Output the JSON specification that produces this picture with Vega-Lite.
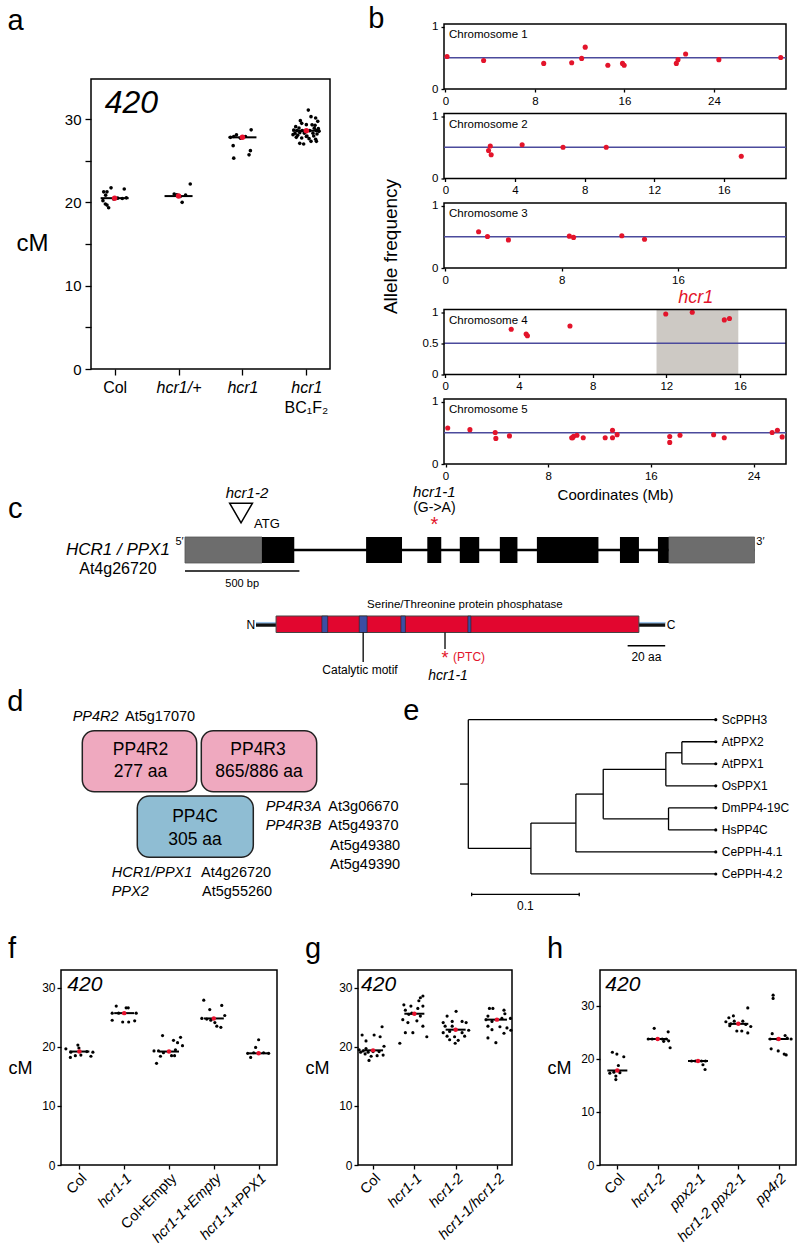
{
  "$schema": "https://vega.github.io/schema/vega-lite/v6.json",
  "background": "white",
  "padding": {"left": 7, "top": 4, "right": 0, "bottom": 0},
  "config": {
    "font": "Liberation Sans",
    "view": {"stroke": "black", "strokeWidth": 1.5},
    "axis": {"grid": false, "domain": false, "tickColor": "black", "tickWidth": 1.3, "labelColor": "black", "titleColor": "black", "labelFont": "Liberation Sans", "titleFont": "Liberation Sans", "titleFontWeight": "normal", "labelOverlap": false},
    "title": {"fontWeight": "normal", "font": "Liberation Sans", "color": "black"},
    "text": {"font": "Liberation Sans", "color": "black"}
  },
  "datasets": {
    "aDots": [
      {"g":"Col","v":21.26,"j":-0.73},{"g":"Col","v":21.26,"j":-0.51},{"g":"Col","v":21.74,"j":-0.24},{"g":"Col","v":20.86,"j":-0.6},{"g":"Col","v":20.2,"j":-0.78},{"g":"Col","v":19.8,"j":-0.62},{"g":"Col","v":19.67,"j":-0.51},{"g":"Col","v":19.35,"j":-0.4},{"g":"Col","v":21.6,"j":0.64},{"g":"Col","v":20.46,"j":0.51},{"g":"Col","v":20.54,"j":0.78},{"g":"Col","v":20.5,"j":0.2},{"g":"Col","v":20.4,"j":-0.07},
      {"g":"hcr1/+","v":21.0,"j":-0.29},{"g":"hcr1/+","v":20.9,"j":-0.11},{"g":"hcr1/+","v":20.0,"j":0.24},{"g":"hcr1/+","v":20.86,"j":0.47},{"g":"hcr1/+","v":22.2,"j":0.78},{"g":"hcr1/+","v":20.7,"j":0.11},
      {"g":"hcr1","v":27.8,"j":-0.8},{"g":"hcr1","v":27.9,"j":-0.58},{"g":"hcr1","v":28.1,"j":-0.4},{"g":"hcr1","v":28.7,"j":0.58},{"g":"hcr1","v":26.8,"j":-0.62},{"g":"hcr1","v":25.3,"j":-0.58},{"g":"hcr1","v":25.7,"j":0.44},{"g":"hcr1","v":26.2,"j":0.53},{"g":"hcr1","v":27.7,"j":-0.13},{"g":"hcr1","v":27.9,"j":0.2},
      {"g":"hcr1 BC1F2","v":31.07,"j":0.13},{"g":"hcr1 BC1F2","v":30.28,"j":0.31},{"g":"hcr1 BC1F2","v":30.12,"j":0.62},{"g":"hcr1 BC1F2","v":29.72,"j":0.76},{"g":"hcr1 BC1F2","v":29.48,"j":-0.31},{"g":"hcr1 BC1F2","v":29.32,"j":0},{"g":"hcr1 BC1F2","v":29.3,"j":0.38},{"g":"hcr1 BC1F2","v":29.08,"j":-0.71},{"g":"hcr1 BC1F2","v":28.92,"j":-0.49},{"g":"hcr1 BC1F2","v":28.9,"j":0.53},{"g":"hcr1 BC1F2","v":28.84,"j":0.8},{"g":"hcr1 BC1F2","v":28.68,"j":-0.84},{"g":"hcr1 BC1F2","v":28.6,"j":-0.62},{"g":"hcr1 BC1F2","v":28.6,"j":-0.27},{"g":"hcr1 BC1F2","v":28.6,"j":0.22},{"g":"hcr1 BC1F2","v":28.6,"j":0.67},{"g":"hcr1 BC1F2","v":28.52,"j":0.84},{"g":"hcr1 BC1F2","v":28.28,"j":-0.76},{"g":"hcr1 BC1F2","v":28.36,"j":-0.44},{"g":"hcr1 BC1F2","v":28.3,"j":-0.13},{"g":"hcr1 BC1F2","v":28.3,"j":0.44},{"g":"hcr1 BC1F2","v":28.2,"j":0.71},{"g":"hcr1 BC1F2","v":28.12,"j":-0.89},{"g":"hcr1 BC1F2","v":28.04,"j":-0.58},{"g":"hcr1 BC1F2","v":27.96,"j":0.04},{"g":"hcr1 BC1F2","v":27.96,"j":0.49},{"g":"hcr1 BC1F2","v":27.8,"j":-0.67},{"g":"hcr1 BC1F2","v":27.72,"j":-0.31},{"g":"hcr1 BC1F2","v":27.64,"j":0.18},{"g":"hcr1 BC1F2","v":27.56,"j":0.62},{"g":"hcr1 BC1F2","v":27.32,"j":0.67},{"g":"hcr1 BC1F2","v":27.08,"j":-0.44},{"g":"hcr1 BC1F2","v":27.0,"j":-0.18},{"g":"hcr1 BC1F2","v":27.32,"j":0.31},{"g":"hcr1 BC1F2","v":27.9,"j":0},{"g":"hcr1 BC1F2","v":29.24,"j":0.58},{"g":"hcr1 BC1F2","v":29.8,"j":-0.4}
    ],
    "aMeans": [{"g":"Col","v":20.5},{"g":"hcr1/+","v":20.75},{"g":"hcr1","v":27.8},{"g":"hcr1 BC1F2","v":28.6}],
    "chr1": [{"x":0.15,"y":0.52},{"x":3.42,"y":0.457},{"x":8.79,"y":0.41},{"x":11.29,"y":0.42},{"x":12.18,"y":0.49},{"x":12.5,"y":0.67},{"x":14.52,"y":0.38},{"x":15.83,"y":0.41},{"x":15.98,"y":0.38},{"x":20.64,"y":0.41},{"x":20.79,"y":0.47},{"x":21.47,"y":0.56},{"x":24.44,"y":0.47},{"x":29.97,"y":0.505}],
    "chr2": [{"x":2.48,"y":0.447},{"x":2.58,"y":0.52},{"x":2.63,"y":0.38},{"x":4.41,"y":0.54},{"x":6.76,"y":0.5},{"x":9.24,"y":0.5},{"x":17.0,"y":0.356}],
    "chr3": [{"x":2.29,"y":0.58},{"x":2.9,"y":0.505},{"x":4.34,"y":0.45},{"x":8.53,"y":0.51},{"x":8.82,"y":0.49},{"x":12.14,"y":0.517},{"x":13.7,"y":0.46}],
    "chr4": [{"x":3.58,"y":0.725},{"x":4.39,"y":0.648},{"x":4.46,"y":0.62},{"x":6.77,"y":0.775},{"x":11.97,"y":0.967},{"x":13.41,"y":0.995},{"x":15.15,"y":0.874},{"x":15.43,"y":0.896}],
    "chr5": [{"x":0.17,"y":0.577},{"x":1.9,"y":0.55},{"x":3.87,"y":0.505},{"x":3.92,"y":0.41},{"x":4.98,"y":0.45},{"x":9.83,"y":0.42},{"x":9.98,"y":0.445},{"x":9.9,"y":0.42},{"x":10.24,"y":0.46},{"x":10.73,"y":0.42},{"x":12.44,"y":0.42},{"x":13.01,"y":0.42},{"x":13.01,"y":0.54},{"x":13.37,"y":0.47},{"x":17.47,"y":0.44},{"x":17.47,"y":0.346},{"x":18.27,"y":0.46},{"x":20.89,"y":0.467},{"x":21.72,"y":0.42},{"x":25.45,"y":0.505},{"x":25.86,"y":0.54},{"x":26.23,"y":0.434}],
    "gene": [{"part":"utr","s":0,"e":336.5},{"part":"exon","s":336.5,"e":477.6},{"part":"exon","s":791.5,"e":948.5},{"part":"exon","s":1059,"e":1120},{"part":"exon","s":1201,"e":1286},{"part":"exon","s":1376,"e":1453},{"part":"exon","s":1538,"e":1807},{"part":"exon","s":1901,"e":1984},{"part":"exon","s":2067,"e":2114},{"part":"utr","s":2114,"e":2489}],
    "motifs": [{"s":35.1,"e":38.2},{"s":55.0,"e":59.2},{"s":77.2,"e":79.6},{"s":112.9,"e":114.5}],
    "tree": [
      {"x":-0.0077,"x2":0,"y":2.92,"y2":2.92},{"x":0,"x2":0.23,"y":0,"y2":0},{"x":0,"x2":0.0582,"y":5.84,"y2":5.84},{"x":0.0582,"x2":0.1,"y":4.69,"y2":4.69},{"x":0.0582,"x2":0.23,"y":7,"y2":7},{"x":0.1,"x2":0.1254,"y":3.375,"y2":3.375},{"x":0.1,"x2":0.23,"y":6,"y2":6},{"x":0.1254,"x2":0.1836,"y":2.25,"y2":2.25},{"x":0.1254,"x2":0.1861,"y":4.5,"y2":4.5},{"x":0.1836,"x2":0.1985,"y":1.5,"y2":1.5},{"x":0.1836,"x2":0.23,"y":3,"y2":3},{"x":0.1985,"x2":0.23,"y":1,"y2":1},{"x":0.1985,"x2":0.23,"y":2,"y2":2},{"x":0.1861,"x2":0.23,"y":4,"y2":4},{"x":0.1861,"x2":0.23,"y":5,"y2":5},
      {"x":0,"x2":0,"y":0,"y2":5.84},{"x":0.0582,"x2":0.0582,"y":4.69,"y2":7},{"x":0.1,"x2":0.1,"y":3.375,"y2":6},{"x":0.1254,"x2":0.1254,"y":2.25,"y2":4.5},{"x":0.1836,"x2":0.1836,"y":1.5,"y2":3},{"x":0.1985,"x2":0.1985,"y":1,"y2":2},{"x":0.1861,"x2":0.1861,"y":4,"y2":5},
      {"x":0.0031,"x2":0.1031,"y":7.93,"y2":7.93},{"x":0.0031,"x2":0.0031,"y":7.85,"y2":8.01},{"x":0.1031,"x2":0.1031,"y":7.85,"y2":8.01}
    ],
    "leaves": [{"n":"ScPPH3","d":0.23,"i":0},{"n":"AtPPX2","d":0.23,"i":1},{"n":"AtPPX1","d":0.23,"i":2},{"n":"OsPPX1","d":0.23,"i":3},{"n":"DmPP4-19C","d":0.23,"i":4},{"n":"HsPP4C","d":0.23,"i":5},{"n":"CePPH-4.1","d":0.23,"i":6},{"n":"CePPH-4.2","d":0.23,"i":7}],
    "fDots": [
      {"g":"Col","v":19.66,"j":-0.9},{"g":"Col","v":19.1,"j":-0.57},{"g":"Col","v":20.3,"j":-0.1},{"g":"Col","v":19.8,"j":-0.03},{"g":"Col","v":18.2,"j":-0.6},{"g":"Col","v":18.5,"j":-0.27},{"g":"Col","v":18.6,"j":0.1},{"g":"Col","v":18.4,"j":0.77},{"g":"Col","v":19.2,"j":0.5},{"g":"Col","v":19.1,"j":0.9},
      {"g":"hcr1-1","v":26.9,"j":-0.53},{"g":"hcr1-1","v":26.6,"j":0.13},{"g":"hcr1-1","v":26.6,"j":0.27},{"g":"hcr1-1","v":25.7,"j":-0.8},{"g":"hcr1-1","v":25.7,"j":0.8},{"g":"hcr1-1","v":24.5,"j":-0.8},{"g":"hcr1-1","v":24.2,"j":-0.1},{"g":"hcr1-1","v":24.2,"j":0.3},{"g":"hcr1-1","v":24.4,"j":0.7},{"g":"hcr1-1","v":25.7,"j":-0.37},
      {"g":"Col+Empty","v":17.2,"j":-0.83},{"g":"Col+Empty","v":21.9,"j":-0.43},{"g":"Col+Empty","v":19.3,"j":-1.0},{"g":"Col+Empty","v":19.3,"j":-0.7},{"g":"Col+Empty","v":19.0,"j":-0.37},{"g":"Col+Empty","v":18.5,"j":0.17},{"g":"Col+Empty","v":18.5,"j":0.37},{"g":"Col+Empty","v":19.5,"j":0.43},{"g":"Col+Empty","v":20.7,"j":0.57},{"g":"Col+Empty","v":21.1,"j":0.3},{"g":"Col+Empty","v":21.6,"j":0.77},{"g":"Col+Empty","v":20.2,"j":0.9},{"g":"Col+Empty","v":18.4,"j":-0.57},
      {"g":"hcr1-1+Empty","v":27.9,"j":-0.67},{"g":"hcr1-1+Empty","v":26.3,"j":-0.27},{"g":"hcr1-1+Empty","v":27.0,"j":0.53},{"g":"hcr1-1+Empty","v":24.8,"j":-0.8},{"g":"hcr1-1+Empty","v":24.7,"j":-0.47},{"g":"hcr1-1+Empty","v":25.3,"j":0.73},{"g":"hcr1-1+Empty","v":23.5,"j":0.2},{"g":"hcr1-1+Empty","v":23.3,"j":0.47},{"g":"hcr1-1+Empty","v":24.1,"j":0.07},{"g":"hcr1-1+Empty","v":24.5,"j":-0.2},
      {"g":"hcr1-1+PPX1","v":21.2,"j":0},{"g":"hcr1-1+PPX1","v":19.9,"j":-0.2},{"g":"hcr1-1+PPX1","v":18.2,"j":-0.53},{"g":"hcr1-1+PPX1","v":19.0,"j":-0.33},{"g":"hcr1-1+PPX1","v":19.0,"j":0.33},{"g":"hcr1-1+PPX1","v":18.9,"j":0.67},{"g":"hcr1-1+PPX1","v":18.9,"j":-0.73}
    ],
    "fMeans": [{"g":"Col","v":19.2},{"g":"hcr1-1","v":25.7},{"g":"Col+Empty","v":19.2},{"g":"hcr1-1+Empty","v":24.8},{"g":"hcr1-1+PPX1","v":18.9}],
    "gDots": [
      {"g":"Col","v":22.0,"j":-0.73},{"g":"Col","v":22.0,"j":0.07},{"g":"Col","v":21.0,"j":-0.47},{"g":"Col","v":21.7,"j":0.47},{"g":"Col","v":23.4,"j":0.6},{"g":"Col","v":19.3,"j":-0.67},{"g":"Col","v":19.1,"j":-0.33},{"g":"Col","v":19.1,"j":-0.83},{"g":"Col","v":18.8,"j":-0.53},{"g":"Col","v":19.2,"j":0},{"g":"Col","v":19.2,"j":0.4},{"g":"Col","v":20.1,"j":0.73},{"g":"Col","v":18.6,"j":0.67},{"g":"Col","v":18.4,"j":-0.13},{"g":"Col","v":17.7,"j":-0.27},{"g":"Col","v":18.5,"j":0.27},{"g":"Col","v":19.7,"j":-0.47},{"g":"Col","v":19.5,"j":-0.93},
      {"g":"hcr1-1","v":27.1,"j":-0.7},{"g":"hcr1-1","v":26.9,"j":-0.23},{"g":"hcr1-1","v":26.5,"j":0.23},{"g":"hcr1-1","v":26.9,"j":0.57},{"g":"hcr1-1","v":27.8,"j":0.3},{"g":"hcr1-1","v":28.3,"j":0.4},{"g":"hcr1-1","v":28.6,"j":0.57},{"g":"hcr1-1","v":26.2,"j":-0.6},{"g":"hcr1-1","v":25.7,"j":-0.17},{"g":"hcr1-1","v":25.2,"j":0.4},{"g":"hcr1-1","v":24.6,"j":-0.77},{"g":"hcr1-1","v":24.1,"j":-0.43},{"g":"hcr1-1","v":24.4,"j":0.17},{"g":"hcr1-1","v":23.5,"j":0.57},{"g":"hcr1-1","v":22.4,"j":-0.6},{"g":"hcr1-1","v":22.4,"j":-0.1},{"g":"hcr1-1","v":21.7,"j":0.83},{"g":"hcr1-1","v":20.6,"j":-0.97},{"g":"hcr1-1","v":25.5,"j":-0.37},
      {"g":"hcr1-2","v":26.0,"j":0.03},{"g":"hcr1-2","v":25.2,"j":-0.57},{"g":"hcr1-2","v":24.3,"j":-0.23},{"g":"hcr1-2","v":24.3,"j":0.43},{"g":"hcr1-2","v":24.1,"j":-0.83},{"g":"hcr1-2","v":24.1,"j":0.7},{"g":"hcr1-2","v":22.4,"j":-0.83},{"g":"hcr1-2","v":22.6,"j":-0.4},{"g":"hcr1-2","v":22.4,"j":0.43},{"g":"hcr1-2","v":22.8,"j":0.87},{"g":"hcr1-2","v":21.8,"j":-0.57},{"g":"hcr1-2","v":21.7,"j":-0.07},{"g":"hcr1-2","v":21.8,"j":0.6},{"g":"hcr1-2","v":21.2,"j":-0.4},{"g":"hcr1-2","v":21.1,"j":0.17},{"g":"hcr1-2","v":20.6,"j":-0.03},{"g":"hcr1-2","v":23.5,"j":-0.7},{"g":"hcr1-2","v":23.5,"j":-0.23},
      {"g":"hcr1-1/hcr1-2","v":26.5,"j":-0.5},{"g":"hcr1-1/hcr1-2","v":26.5,"j":-0.27},{"g":"hcr1-1/hcr1-2","v":26.2,"j":0.47},{"g":"hcr1-1/hcr1-2","v":25.2,"j":-0.6},{"g":"hcr1-1/hcr1-2","v":25.6,"j":0.53},{"g":"hcr1-1/hcr1-2","v":24.8,"j":0.33},{"g":"hcr1-1/hcr1-2","v":24.8,"j":0.9},{"g":"hcr1-1/hcr1-2","v":24.3,"j":-0.33},{"g":"hcr1-1/hcr1-2","v":23.5,"j":-0.6},{"g":"hcr1-1/hcr1-2","v":23.4,"j":0.2},{"g":"hcr1-1/hcr1-2","v":23.2,"j":0.67},{"g":"hcr1-1/hcr1-2","v":22.8,"j":0.93},{"g":"hcr1-1/hcr1-2","v":22.9,"j":-0.33},{"g":"hcr1-1/hcr1-2","v":21.5,"j":-0.6},{"g":"hcr1-1/hcr1-2","v":20.7,"j":-0.07},{"g":"hcr1-1/hcr1-2","v":22.3,"j":0.47},{"g":"hcr1-1/hcr1-2","v":24.6,"j":-0.73}
    ],
    "gMeans": [{"g":"Col","v":19.4},{"g":"hcr1-1","v":25.6},{"g":"hcr1-2","v":22.9},{"g":"hcr1-1/hcr1-2","v":24.6}],
    "hDots": [
      {"g":"Col","v":21.25,"j":-0.33},{"g":"Col","v":20.9,"j":-0.03},{"g":"Col","v":20.4,"j":0.43},{"g":"Col","v":18.75,"j":0.07},{"g":"Col","v":17.5,"j":-0.23},{"g":"Col","v":17.4,"j":0.17},{"g":"Col","v":16.75,"j":-0.1},{"g":"Col","v":16.1,"j":-0.1},{"g":"Col","v":17.3,"j":-0.5},
      {"g":"hcr1-2","v":25.75,"j":-0.23},{"g":"hcr1-2","v":25.1,"j":0.7},{"g":"hcr1-2","v":23.75,"j":-0.63},{"g":"hcr1-2","v":23.75,"j":-0.37},{"g":"hcr1-2","v":23.75,"j":0.3},{"g":"hcr1-2","v":23.75,"j":0.57},{"g":"hcr1-2","v":23.4,"j":0.73},{"g":"hcr1-2","v":23.3,"j":0.4},{"g":"hcr1-2","v":22.1,"j":0.83},
      {"g":"ppx2-1","v":19.6,"j":-0.43},{"g":"ppx2-1","v":19.6,"j":-0.17},{"g":"ppx2-1","v":19.6,"j":0.23},{"g":"ppx2-1","v":19.6,"j":0.5},{"g":"ppx2-1","v":18.9,"j":0.33},{"g":"ppx2-1","v":18.0,"j":0.47},
      {"g":"hcr1-2 ppx2-1","v":27.75,"j":-0.63},{"g":"hcr1-2 ppx2-1","v":28.1,"j":-0.33},{"g":"hcr1-2 ppx2-1","v":29.6,"j":0.63},{"g":"hcr1-2 ppx2-1","v":27.0,"j":-0.83},{"g":"hcr1-2 ppx2-1","v":26.25,"j":-0.57},{"g":"hcr1-2 ppx2-1","v":27.1,"j":-0.27},{"g":"hcr1-2 ppx2-1","v":27.1,"j":0.3},{"g":"hcr1-2 ppx2-1","v":26.5,"j":0.5},{"g":"hcr1-2 ppx2-1","v":26.1,"j":0.83},{"g":"hcr1-2 ppx2-1","v":25.25,"j":-0.1},{"g":"hcr1-2 ppx2-1","v":25.25,"j":0.23},{"g":"hcr1-2 ppx2-1","v":24.9,"j":0.63},{"g":"hcr1-2 ppx2-1","v":26.6,"j":-0.5},
      {"g":"pp4r2","v":32.0,"j":-0.37},{"g":"pp4r2","v":31.4,"j":-0.37},{"g":"pp4r2","v":24.75,"j":-0.43},{"g":"pp4r2","v":24.4,"j":0.43},{"g":"pp4r2","v":23.75,"j":-0.57},{"g":"pp4r2","v":23.75,"j":-0.1},{"g":"pp4r2","v":23.9,"j":0.57},{"g":"pp4r2","v":21.9,"j":-0.5},{"g":"pp4r2","v":21.5,"j":-0.03},{"g":"pp4r2","v":20.9,"j":0.37},{"g":"pp4r2","v":20.75,"j":0.5},{"g":"pp4r2","v":23.75,"j":0.83}
    ],
    "hMeans": [{"g":"Col","v":17.8},{"g":"hcr1-2","v":23.75},{"g":"ppx2-1","v":19.6},{"g":"hcr1-2 ppx2-1","v":26.6},{"g":"pp4r2","v":23.75}]
  },
  "columns": 1,
  "align": "none",
  "spacing": 5,
  "concat": [
    {
      "columns": 1,
      "align": "none",
      "spacing": -31,
      "concat": [
        {
          "columns": 2,
          "align": "none",
          "spacing": 36,
          "concat": [
            {
              "width": 239, "height": 345,
              "view": {"stroke": null},
              "layer": [
                {"data": {"values": [{}]}, "mark": {"type": "rect", "fill": null, "fillOpacity": 0, "stroke": "black", "strokeWidth": 1.5}, "encoding": {"y": {"datum": 0, "type": "quantitative"}, "y2": {"datum": 34.8}}},
                {"data": {"name": "aDots"}, "mark": {"type": "circle", "size": 13, "color": "black", "opacity": 1},
                 "encoding": {
                   "x": {"field": "g", "type": "nominal", "sort": null, "scale": {"type": "point", "padding": 0.37, "domain": ["Col", "hcr1/+", "hcr1", "hcr1 BC1F2"]},
                         "axis": {"title": "a", "titleFontSize": 29, "titleX": -84, "titleY": -340, "titleAlign": "left", "titleBaseline": "alphabetic", "titleAngle": 0, "labelAngle": 0, "labelFontSize": 16, "tickSize": 6, "labelPadding": 4, "labelExpr": "datum.value === 'hcr1 BC1F2' ? 'hcr1' : datum.value", "labelFontStyle": {"condition": {"test": "datum.value === 'Col'", "value": "normal"}, "value": "italic"}}},
                   "xOffset": {"field": "j", "type": "quantitative", "scale": {"domain": [-1, 1], "range": [-15, 15]}},
                   "y": {"field": "v", "type": "quantitative", "scale": {"domain": [0, 41.4], "nice": false},
                         "axis": {"values": [0, 5, 10, 15, 20, 25, 30], "labelExpr": "datum.value % 10 === 0 ? datum.label : ''", "tickSize": 6, "labelFontSize": 15, "labelPadding": 4, "title": "cM", "titleAngle": 0, "titleFontSize": 24, "titleX": -59, "titleY": 219, "titleAlign": "center", "titleBaseline": "middle"}}
                 }},
                {"data": {"name": "aMeans"}, "mark": {"type": "tick", "color": "black", "opacity": 1, "thickness": 2, "size": 28}, "encoding": {"x": {"field": "g", "type": "nominal"}, "y": {"field": "v", "type": "quantitative"}}},
                {"data": {"name": "aMeans"}, "mark": {"type": "circle", "size": 30, "color": "#e8112d", "opacity": 1}, "encoding": {"x": {"field": "g", "type": "nominal"}, "y": {"field": "v", "type": "quantitative"}}},
                {"data": {"values": [{"g": "Col", "v": 30.7, "t": "420"}]}, "mark": {"type": "text", "fontSize": 32, "fontStyle": "italic", "align": "left", "dx": -10, "baseline": "alphabetic"}, "encoding": {"x": {"field": "g", "type": "nominal"}, "y": {"field": "v", "type": "quantitative"}, "text": {"field": "t"}}},
                {"data": {"values": [{"g": "hcr1 BC1F2", "v": 0, "t": "BC₁F₂"}]}, "mark": {"type": "text", "fontSize": 16, "baseline": "middle", "dy": 39}, "encoding": {"x": {"field": "g", "type": "nominal"}, "y": {"field": "v", "type": "quantitative"}, "text": {"field": "t"}}}
              ]
            },
            {
              "bounds": "flush",
              "spacing": 24.5,
              "vconcat": [
                {
                  "width": 342, "height": 65,
                  "layer": [
                    {"data": {"values": [{}]}, "mark": {"type": "rule", "color": "#4b4a9c", "strokeWidth": 1.5}, "encoding": {"y": {"datum": 0.5}}},
                    {"data": {"name": "chr1"}, "mark": {"type": "circle", "size": 26, "color": "#e3142b", "opacity": 1},
                     "encoding": {
                       "x": {"field": "x", "type": "quantitative", "scale": {"domain": [-0.12, 30.44], "nice": false, "zero": false}, "axis": {"values": [0, 8, 16, 24], "title": null, "tickSize": 3, "labelFontSize": 11.5, "labelPadding": 3, "labelFlush": false}},
                       "y": {"field": "y", "type": "quantitative", "scale": {"domain": [0, 1.04], "nice": false}, "axis": {"values": [0, 0.5, 1], "labelExpr": "datum.value === 0.5 ? '0.5' : (datum.value === 1 ? '1' : '0')", "title": null, "tickSize": 3, "labelFontSize": 11.5, "labelPadding": 3, "labelFlush": false}}
                     }},
                    {"data": {"values": [{"t": "Chromosome 1"}]}, "mark": {"type": "text", "align": "left", "baseline": "middle", "dx": 5, "dy": 11, "fontSize": 11.5}, "encoding": {"x": {"datum": -0.12}, "y": {"datum": 1.04}, "text": {"field": "t"}}},
                    {"data": {"values": [{"t": "b"}]}, "mark": {"type": "text", "align": "left", "baseline": "alphabetic", "fontSize": 29}, "encoding": {"x": {"datum": -6.89}, "y": {"datum": 0.976}, "text": {"field": "t"}}}
                  ]
                },
                {
                  "width": 342, "height": 65,
                  "layer": [
                    {"data": {"values": [{}]}, "mark": {"type": "rule", "color": "#4b4a9c", "strokeWidth": 1.5}, "encoding": {"y": {"datum": 0.5}}},
                    {"data": {"name": "chr2"}, "mark": {"type": "circle", "size": 26, "color": "#e3142b", "opacity": 1},
                     "encoding": {
                       "x": {"field": "x", "type": "quantitative", "scale": {"domain": [-0.08, 19.57], "nice": false, "zero": false}, "axis": {"values": [0, 4, 8, 12, 16], "title": null, "tickSize": 3, "labelFontSize": 11.5, "labelPadding": 3, "labelFlush": false}},
                       "y": {"field": "y", "type": "quantitative", "scale": {"domain": [0, 1.04], "nice": false}, "axis": {"values": [0, 0.5, 1], "labelExpr": "datum.value === 0.5 ? '0.5' : (datum.value === 1 ? '1' : '0')", "title": null, "tickSize": 3, "labelFontSize": 11.5, "labelPadding": 3, "labelFlush": false}}
                     }},
                    {"data": {"values": [{"t": "Chromosome 2"}]}, "mark": {"type": "text", "align": "left", "baseline": "middle", "dx": 5, "dy": 11, "fontSize": 11.5}, "encoding": {"x": {"datum": -0.08}, "y": {"datum": 1.04}, "text": {"field": "t"}}}
                  ]
                },
                {
                  "width": 342, "height": 65,
                  "layer": [
                    {"data": {"values": [{}]}, "mark": {"type": "rule", "color": "#4b4a9c", "strokeWidth": 1.5}, "encoding": {"y": {"datum": 0.5}}},
                    {"data": {"name": "chr3"}, "mark": {"type": "circle", "size": 26, "color": "#e3142b", "opacity": 1},
                     "encoding": {
                       "x": {"field": "x", "type": "quantitative", "scale": {"domain": [-0.09, 23.43], "nice": false, "zero": false}, "axis": {"values": [0, 8, 16], "title": null, "tickSize": 3, "labelFontSize": 11.5, "labelPadding": 3, "labelFlush": false}},
                       "y": {"field": "y", "type": "quantitative", "scale": {"domain": [0, 1.04], "nice": false}, "axis": {"values": [0, 0.5, 1], "labelExpr": "datum.value === 0.5 ? '0.5' : (datum.value === 1 ? '1' : '0')", "tickSize": 3, "labelFontSize": 11.5, "labelPadding": 3, "labelFlush": false, "title": "Allele frequency", "titleFontSize": 19, "titleAngle": 270, "titleX": -54, "titleY": 43, "titleAlign": "center", "titleBaseline": "middle"}}
                     }},
                    {"data": {"values": [{"t": "Chromosome 3"}]}, "mark": {"type": "text", "align": "left", "baseline": "middle", "dx": 5, "dy": 11, "fontSize": 11.5}, "encoding": {"x": {"datum": -0.09}, "y": {"datum": 1.04}, "text": {"field": "t"}}}
                  ]
                },
                {
                  "width": 342, "height": 82,
                  "view": {"stroke": null},
                  "layer": [
                    {"data": {"values": [{"s": 11.47, "e": 15.91}]}, "mark": {"type": "rect", "color": "#cdc9c4"}, "encoding": {"x": {"field": "s", "type": "quantitative"}, "x2": {"field": "e"}, "y": {"datum": 0}, "y2": {"datum": 1.04}}},
                    {"data": {"values": [{"y": 0.5}]}, "mark": {"type": "rule", "color": "#4b4a9c", "strokeWidth": 1.5}, "encoding": {"x": {"datum": -0.07}, "x2": {"datum": 18.5}, "y": {"field": "y", "type": "quantitative"}}},
                    {"data": {"name": "chr4"}, "mark": {"type": "circle", "size": 26, "color": "#e3142b", "opacity": 1},
                     "encoding": {
                       "x": {"field": "x", "type": "quantitative", "scale": {"domain": [-0.07, 18.5], "nice": false, "zero": false}, "axis": {"values": [0, 4, 8, 12, 16], "title": null, "tickSize": 3, "labelFontSize": 11.5, "labelPadding": 3, "labelFlush": false}},
                       "y": {"field": "y", "type": "quantitative", "scale": {"domain": [0, 1.312], "nice": false}, "axis": {"values": [0, 0.5, 1], "labelExpr": "datum.value === 0.5 ? '0.5' : (datum.value === 1 ? '1' : '0')", "title": null, "tickSize": 3, "labelFontSize": 11.5, "labelPadding": 3, "labelFlush": false}}
                     }},
                    {"data": {"values": [{}]}, "mark": {"type": "rect", "fill": null, "fillOpacity": 0, "stroke": "black", "strokeWidth": 1.5}, "encoding": {"x": {"datum": -0.07}, "x2": {"datum": 18.5}, "y": {"datum": 0}, "y2": {"datum": 1.04}}},
                    {"data": {"values": [{"t": "Chromosome 4"}]}, "mark": {"type": "text", "align": "left", "baseline": "middle", "dx": 5, "dy": 11, "fontSize": 11.5}, "encoding": {"x": {"datum": -0.07}, "y": {"datum": 1.04}, "text": {"field": "t"}}},
                    {"data": {"values": [{"x": 13.6, "t": "hcr1"}]}, "mark": {"type": "text", "align": "center", "baseline": "alphabetic", "fontSize": 18, "fontStyle": "italic", "color": "#e3142b"}, "encoding": {"x": {"field": "x", "type": "quantitative"}, "y": {"datum": 1.152}, "text": {"field": "t"}}}
                  ]
                },
                {
                  "width": 342, "height": 65,
                  "layer": [
                    {"data": {"values": [{}]}, "mark": {"type": "rule", "color": "#4b4a9c", "strokeWidth": 1.5}, "encoding": {"y": {"datum": 0.5}}},
                    {"data": {"name": "chr5"}, "mark": {"type": "circle", "size": 26, "color": "#e3142b", "opacity": 1},
                     "encoding": {
                       "x": {"field": "x", "type": "quantitative", "scale": {"domain": [-0.12, 26.53], "nice": false, "zero": false}, "axis": {"values": [0, 8, 16, 24], "title": "Coordinates (Mb)", "titleFontSize": 15, "titlePadding": 6, "tickSize": 3, "labelFontSize": 11.5, "labelPadding": 3, "labelFlush": false}},
                       "y": {"field": "y", "type": "quantitative", "scale": {"domain": [0, 1.04], "nice": false}, "axis": {"values": [0, 0.5, 1], "labelExpr": "datum.value === 0.5 ? '0.5' : (datum.value === 1 ? '1' : '0')", "title": null, "tickSize": 3, "labelFontSize": 11.5, "labelPadding": 3, "labelFlush": false}}
                     }},
                    {"data": {"values": [{"t": "Chromosome 5"}]}, "mark": {"type": "text", "align": "left", "baseline": "middle", "dx": 5, "dy": 11, "fontSize": 11.5}, "encoding": {"x": {"datum": -0.12}, "y": {"datum": 1.04}, "text": {"field": "t"}}}
                  ]
                }
              ]
            }
          ]
        },
        {
          "width": 696, "height": 210,
          "view": {"stroke": null},
          "resolve": {"scale": {"x": "independent"}},
          "layer": [
            {
              "encoding": {
                "x": {"type": "quantitative", "scale": {"domain": [-410.8, 2631.1], "nice": false, "zero": false}, "axis": null},
                "y": {"type": "quantitative", "scale": {"domain": [0, 21], "nice": false, "reverse": true}, "axis": null}
              },
              "layer": [
                {"data": {"values": [{"s": 0, "e": 2489, "y": 7.7}]}, "mark": {"type": "rule", "color": "black", "strokeWidth": 2.5}, "encoding": {"x": {"field": "s"}, "x2": {"field": "e"}, "y": {"field": "y"}}},
                {"data": {"name": "gene"}, "transform": [{"filter": "datum.part === 'utr'"}], "mark": {"type": "rect", "color": "#6d6d6d", "stroke": "#555555", "strokeWidth": 0.8},
                 "encoding": {"x": {"field": "s"}, "x2": {"field": "e"}, "y": {"datum": 6.4}, "y2": {"datum": 9.0}}},
                {"data": {"name": "gene"}, "transform": [{"filter": "datum.part === 'exon'"}], "mark": {"type": "rect", "color": "#000000"},
                 "encoding": {"x": {"field": "s"}, "x2": {"field": "e"}, "y": {"datum": 6.4}, "y2": {"datum": 9.0}}},
                {"data": {"values": [{"s": 0, "e": 500, "y": 9.8}]}, "mark": {"type": "rule", "color": "black", "strokeWidth": 1.5}, "encoding": {"x": {"field": "s"}, "x2": {"field": "e"}, "y": {"field": "y"}}},
                {"data": {"values": [{"x": 245, "y": 4.0}]}, "mark": {"type": "point", "shape": "triangle-down", "size": 520, "filled": false, "stroke": "black", "strokeWidth": 1.5, "opacity": 1}, "encoding": {"x": {"field": "x"}, "y": {"field": "y"}}},
                {"data": {"values": [{"x": -773.6, "y": 4.5, "t": "c"}]}, "mark": {"type": "text", "fontSize": 29, "align": "left", "baseline": "alphabetic"}, "encoding": {"x": {"field": "x"}, "y": {"field": "y"}, "text": {"field": "t"}}},
                {"data": {"values": [{"x": 271, "y": 2.0, "t": "hcr1-2"}, {"x": 1090, "y": 1.85, "t": "hcr1-1"}]}, "mark": {"type": "text", "fontSize": 15, "fontStyle": "italic", "align": "center", "baseline": "middle"}, "encoding": {"x": {"field": "x"}, "y": {"field": "y"}, "text": {"field": "t"}}},
                {"data": {"values": [{"x": 1090, "y": 3.45, "t": "(G->A)"}]}, "mark": {"type": "text", "fontSize": 14, "align": "center", "baseline": "middle"}, "encoding": {"x": {"field": "x"}, "y": {"field": "y"}, "text": {"field": "t"}}},
                {"data": {"values": [{"x": 301.6, "y": 5.1, "t": "ATG"}]}, "mark": {"type": "text", "fontSize": 13, "align": "left", "baseline": "middle"}, "encoding": {"x": {"field": "x"}, "y": {"field": "y"}, "text": {"field": "t"}}},
                {"data": {"values": [{"x": 1090, "y": 4.22, "t": "*"}]}, "mark": {"type": "text", "fontSize": 20, "align": "center", "baseline": "top", "color": "#e3142b"}, "encoding": {"x": {"field": "x"}, "y": {"field": "y"}, "text": {"field": "t"}}},
                {"data": {"values": [{"x": -6, "y": 6.9, "t": "5′"}]}, "mark": {"type": "text", "fontSize": 11, "align": "right", "baseline": "middle"}, "encoding": {"x": {"field": "x"}, "y": {"field": "y"}, "text": {"field": "t"}}},
                {"data": {"values": [{"x": 2497, "y": 6.9, "t": "3′"}]}, "mark": {"type": "text", "fontSize": 11, "align": "left", "baseline": "middle"}, "encoding": {"x": {"field": "x"}, "y": {"field": "y"}, "text": {"field": "t"}}},
                {"data": {"values": [{"x": -293, "y": 7.7, "t": "HCR1 / PPX1"}]}, "mark": {"type": "text", "fontSize": 17, "fontStyle": "italic", "align": "center", "baseline": "middle"}, "encoding": {"x": {"field": "x"}, "y": {"field": "y"}, "text": {"field": "t"}}},
                {"data": {"values": [{"x": -293, "y": 9.6, "t": "At4g26720"}]}, "mark": {"type": "text", "fontSize": 16, "align": "center", "baseline": "middle"}, "encoding": {"x": {"field": "x"}, "y": {"field": "y"}, "text": {"field": "t"}}},
                {"data": {"values": [{"x": 250, "y": 11.1, "t": "500 bp"}]}, "mark": {"type": "text", "fontSize": 11, "align": "center", "baseline": "middle"}, "encoding": {"x": {"field": "x"}, "y": {"field": "y"}, "text": {"field": "t"}}}
              ]
            },
            {
              "encoding": {
                "x": {"type": "quantitative", "scale": {"domain": [-87.9, 282.9], "nice": false, "zero": false}, "axis": null},
                "y": {"type": "quantitative", "axis": null}
              },
              "layer": [
                {"data": {"values": [{"s": 0, "e": 10.7, "y": 15.15}, {"s": 204, "e": 218, "y": 15.15}]}, "mark": {"type": "rule", "color": "#111111", "strokeWidth": 4.5}, "encoding": {"x": {"field": "s"}, "x2": {"field": "e"}, "y": {"field": "y"}}},
                {"data": {"values": [{"s": 0, "e": 10.7, "y": 14.97}, {"s": 204, "e": 218, "y": 14.97}]}, "mark": {"type": "rule", "color": "#9cc3ea", "strokeWidth": 1.5}, "encoding": {"x": {"field": "s"}, "x2": {"field": "e"}, "y": {"field": "y"}}},
                {"data": {"values": [{"s": 10.7, "e": 204}]}, "mark": {"type": "rect", "color": "#e2062f", "stroke": "#444444", "strokeWidth": 1}, "encoding": {"x": {"field": "s"}, "x2": {"field": "e"}, "y": {"datum": 14.3}, "y2": {"datum": 15.95}}},
                {"data": {"name": "motifs"}, "mark": {"type": "rect", "color": "#3b4ea3", "stroke": "#222222", "strokeWidth": 0.6}, "encoding": {"x": {"field": "s"}, "x2": {"field": "e"}, "y": {"datum": 14.3}, "y2": {"datum": 15.95}}},
                {"data": {"values": [{"x": 57.1, "y": 15.95, "y2": 18.9}, {"x": 100.7, "y": 15.95, "y2": 17.6}]}, "mark": {"type": "rule", "color": "black", "strokeWidth": 1.3}, "encoding": {"x": {"field": "x"}, "y": {"field": "y"}, "y2": {"field": "y2"}}},
                {"data": {"values": [{"s": 198, "e": 218, "y": 17.27}]}, "mark": {"type": "rule", "color": "black", "strokeWidth": 1.5}, "encoding": {"x": {"field": "s"}, "x2": {"field": "e"}, "y": {"field": "y"}}},
                {"data": {"values": [{"x": 111.3, "y": 13.2, "t": "Serine/Threonine protein phosphatase"}]}, "mark": {"type": "text", "fontSize": 11.5, "align": "center", "baseline": "middle"}, "encoding": {"x": {"field": "x"}, "y": {"field": "y"}, "text": {"field": "t"}}},
                {"data": {"values": [{"x": -0.5, "y": 15.16, "t": "N"}]}, "mark": {"type": "text", "fontSize": 12, "align": "right", "baseline": "middle"}, "encoding": {"x": {"field": "x"}, "y": {"field": "y"}, "text": {"field": "t"}}},
                {"data": {"values": [{"x": 218.8, "y": 15.16, "t": "C"}]}, "mark": {"type": "text", "fontSize": 12, "align": "left", "baseline": "middle"}, "encoding": {"x": {"field": "x"}, "y": {"field": "y"}, "text": {"field": "t"}}},
                {"data": {"values": [{"x": 55.4, "y": 19.7, "t": "Catalytic motif"}, {"x": 208, "y": 18.35, "t": "20 aa"}]}, "mark": {"type": "text", "fontSize": 12, "align": "center", "baseline": "middle"}, "encoding": {"x": {"field": "x"}, "y": {"field": "y"}, "text": {"field": "t"}}},
                {"data": {"values": [{"x": 100.7, "y": 17.72, "t": "*"}]}, "mark": {"type": "text", "fontSize": 18, "align": "center", "baseline": "top", "color": "#e3142b"}, "encoding": {"x": {"field": "x"}, "y": {"field": "y"}, "text": {"field": "t"}}},
                {"data": {"values": [{"x": 105, "y": 18.35, "t": "(PTC)"}]}, "mark": {"type": "text", "fontSize": 12, "align": "left", "baseline": "middle", "color": "#e3142b"}, "encoding": {"x": {"field": "x"}, "y": {"field": "y"}, "text": {"field": "t"}}},
                {"data": {"values": [{"x": 102.3, "y": 20.3, "t": "hcr1-1"}]}, "mark": {"type": "text", "fontSize": 14, "fontStyle": "italic", "align": "center", "baseline": "middle"}, "encoding": {"x": {"field": "x"}, "y": {"field": "y"}, "text": {"field": "t"}}}
              ]
            }
          ]
        }
      ]
    },
    {
      "columns": 2,
      "align": "none",
      "spacing": 0,
      "concat": [
        {
          "width": 312, "height": 240,
          "view": {"stroke": null},
          "encoding": {
            "x": {"type": "quantitative", "scale": {"domain": [9.1, 40.3], "nice": false, "zero": false}, "axis": null},
            "y": {"type": "quantitative", "scale": {"domain": [0, 24.0], "nice": false, "reverse": true}, "axis": null}
          },
          "layer": [
            {"data": {"values": [
              {"n": "PP4R2", "x": 8.23, "x2": 19.67, "y": 4.17, "y2": 10.27},
              {"n": "PP4R3", "x": 20.13, "x2": 31.67, "y": 4.17, "y2": 10.27}]},
             "mark": {"type": "rect", "cornerRadius": 12, "color": "#efa9bf", "stroke": "#222222", "strokeWidth": 1.5},
             "encoding": {"x": {"field": "x"}, "x2": {"field": "x2"}, "y": {"field": "y"}, "y2": {"field": "y2"}}},
            {"data": {"values": [{"n": "PP4C", "x": 13.73, "x2": 25.33, "y": 10.7, "y2": 16.83}]},
             "mark": {"type": "rect", "cornerRadius": 12, "color": "#8fbdd3", "stroke": "#222222", "strokeWidth": 1.5},
             "encoding": {"x": {"field": "x"}, "x2": {"field": "x2"}, "y": {"field": "y"}, "y2": {"field": "y2"}}},
            {"data": {"values": [
              {"x": 14.05, "y": 6.1, "t": "PP4R2"}, {"x": 14.05, "y": 8.3, "t": "277 aa"},
              {"x": 25.8, "y": 6.1, "t": "PP4R3"}, {"x": 25.9, "y": 8.3, "t": "865/886 aa"},
              {"x": 19.5, "y": 12.8, "t": "PP4C"}, {"x": 19.5, "y": 15.1, "t": "305 aa"}]},
             "mark": {"type": "text", "fontSize": 17.5, "align": "center", "baseline": "middle"},
             "encoding": {"x": {"field": "x"}, "y": {"field": "y"}, "text": {"field": "t"}}},
            {"data": {"values": [
              {"x": 7.27, "y": 2.77, "t": "PP4R2"}, {"x": 26.57, "y": 11.83, "t": "PP4R3A"}, {"x": 26.57, "y": 13.73, "t": "PP4R3B"},
              {"x": 11.17, "y": 18.43, "t": "HCR1/PPX1"}, {"x": 11.17, "y": 20.33, "t": "PPX2"}]},
             "mark": {"type": "text", "fontSize": 14.5, "fontStyle": "italic", "align": "left", "baseline": "middle"},
             "encoding": {"x": {"field": "x"}, "y": {"field": "y"}, "text": {"field": "t"}}},
            {"data": {"values": [
              {"x": 12.5, "y": 2.77, "t": "At5g17070"}, {"x": 32.83, "y": 11.83, "t": "At3g06670"}, {"x": 32.83, "y": 13.73, "t": "At5g49370"},
              {"x": 33.0, "y": 15.67, "t": "At5g49380"}, {"x": 33.0, "y": 17.57, "t": "At5g49390"},
              {"x": 20.1, "y": 18.43, "t": "At4g26720"}, {"x": 20.2, "y": 20.33, "t": "At5g55260"}]},
             "mark": {"type": "text", "fontSize": 14.5, "align": "left", "baseline": "middle"},
             "encoding": {"x": {"field": "x"}, "y": {"field": "y"}, "text": {"field": "t"}}},
            {"data": {"values": [{"x": 0.72, "y": 2.2, "t": "d"}]}, "mark": {"type": "text", "fontSize": 29, "align": "left", "baseline": "alphabetic"}, "encoding": {"x": {"field": "x"}, "y": {"field": "y"}, "text": {"field": "t"}}}
          ]
        },
        {
          "width": 387, "height": 240,
          "view": {"stroke": null},
          "encoding": {
            "x": {"type": "quantitative", "scale": {"domain": [-0.0607, 0.299], "nice": false, "zero": false}, "axis": null},
            "y": {"type": "quantitative", "scale": {"domain": [-1.393, 9.497], "nice": false, "zero": false, "reverse": true}, "axis": null}
          },
          "layer": [
            {"data": {"name": "tree"}, "mark": {"type": "rule", "color": "black", "strokeWidth": 1.3}, "encoding": {"x": {"field": "x"}, "x2": {"field": "x2"}, "y": {"field": "y"}, "y2": {"field": "y2"}}},
            {"data": {"name": "leaves"}, "mark": {"type": "circle", "size": 10, "color": "black", "opacity": 1}, "encoding": {"x": {"field": "d"}, "y": {"field": "i"}}},
            {"data": {"name": "leaves"}, "mark": {"type": "text", "fontSize": 12, "align": "left", "baseline": "middle", "dx": 6}, "encoding": {"x": {"field": "d"}, "y": {"field": "i"}, "text": {"field": "n"}}},
            {"data": {"values": [{"x": 0.053, "y": 8.45, "t": "0.1"}]}, "mark": {"type": "text", "fontSize": 12, "align": "center", "baseline": "middle"}, "encoding": {"x": {"field": "x"}, "y": {"field": "y"}, "text": {"field": "t"}}},
            {"data": {"values": [{"x": -0.0605, "y": 0.01, "t": "e"}]}, "mark": {"type": "text", "fontSize": 29, "align": "left", "baseline": "alphabetic"}, "encoding": {"x": {"field": "x"}, "y": {"field": "y"}, "text": {"field": "t"}}}
          ]
        }
      ]
    },
    {
      "columns": 2,
      "align": "none",
      "spacing": -85,
      "concat": [
        {
          "width": 1, "height": 1,
          "view": {"stroke": null},
          "data": {"values": [{}]},
          "mark": {"type": "rect", "opacity": 0},
          "encoding": {}
        },
        {
          "columns": 2,
          "align": "none",
          "spacing": 32,
          "concat": [
            {
              "columns": 2,
              "align": "none",
              "spacing": 26,
              "concat": [
                {
                  "width": 216, "height": 195,
                  "title": {"text": "f", "anchor": "start", "frame": "bounds", "fontSize": 29, "offset": -17, "baseline": "alphabetic"},
                  "layer": [
                    {"data": {"name": "fDots"}, "mark": {"type": "circle", "size": 10, "color": "black", "opacity": 1},
                     "encoding": {
                       "x": {"field": "g", "type": "nominal", "sort": null, "scale": {"type": "point", "padding": 0.41, "domain": ["Col", "hcr1-1", "Col+Empty", "hcr1-1+Empty", "hcr1-1+PPX1"]},
                             "axis": {"title": null, "labelAngle": -45, "labelFontSize": 14.5, "tickSize": 4, "labelPadding": 2, "labelFontStyle": {"condition": {"test": "indexof(datum.value, 'hcr1') >= 0", "value": "italic"}, "value": "normal"}}},
                       "xOffset": {"field": "j", "type": "quantitative", "scale": {"domain": [-1, 1], "range": [-10, 10]}},
                       "y": {"field": "v", "type": "quantitative", "scale": {"domain": [0, 33], "nice": false},
                             "axis": {"values": [0, 5, 10, 15, 20, 25, 30], "labelExpr": "datum.value % 10 === 0 ? datum.label : ''", "tickSize": 4, "labelFontSize": 12, "labelPadding": 2, "title": "cM", "titleAngle": 0, "titleFontSize": 18, "titleX": -41, "titleY": 98, "titleAlign": "center", "titleBaseline": "middle"}}
                     }},
                    {"data": {"name": "fMeans"}, "mark": {"type": "tick", "color": "black", "opacity": 1, "thickness": 2, "size": 20}, "encoding": {"x": {"field": "g", "type": "nominal"}, "y": {"field": "v", "type": "quantitative"}}},
                    {"data": {"name": "fMeans"}, "mark": {"type": "circle", "size": 20, "color": "#e8112d", "opacity": 1}, "encoding": {"x": {"field": "g", "type": "nominal"}, "y": {"field": "v", "type": "quantitative"}}},
                    {"data": {"values": [{"g": "Col", "v": 29.4, "t": "420"}]}, "mark": {"type": "text", "fontSize": 21, "fontStyle": "italic", "align": "left", "dx": -12, "baseline": "alphabetic"}, "encoding": {"x": {"field": "g", "type": "nominal"}, "y": {"field": "v", "type": "quantitative"}, "text": {"field": "t"}}}
                  ]
                },
                {
                  "width": 154, "height": 195,
                  "title": {"text": "g", "anchor": "start", "frame": "bounds", "fontSize": 29, "offset": -17, "baseline": "alphabetic"},
                  "layer": [
                    {"data": {"name": "gDots"}, "mark": {"type": "circle", "size": 10, "color": "black", "opacity": 1},
                     "encoding": {
                       "x": {"field": "g", "type": "nominal", "sort": null, "scale": {"type": "point", "padding": 0.365, "domain": ["Col", "hcr1-1", "hcr1-2", "hcr1-1/hcr1-2"]},
                             "axis": {"title": null, "labelAngle": -45, "labelFontSize": 14.5, "tickSize": 4, "labelPadding": 2, "labelFontStyle": {"condition": {"test": "datum.value === 'Col'", "value": "normal"}, "value": "italic"}}},
                       "xOffset": {"field": "j", "type": "quantitative", "scale": {"domain": [-1, 1], "range": [-10, 10]}},
                       "y": {"field": "v", "type": "quantitative", "scale": {"domain": [0, 33], "nice": false},
                             "axis": {"values": [0, 5, 10, 15, 20, 25, 30], "labelExpr": "datum.value % 10 === 0 ? datum.label : ''", "tickSize": 4, "labelFontSize": 12, "labelPadding": 2, "title": "cM", "titleAngle": 0, "titleFontSize": 18, "titleX": -41, "titleY": 98, "titleAlign": "center", "titleBaseline": "middle"}}
                     }},
                    {"data": {"name": "gMeans"}, "mark": {"type": "tick", "color": "black", "opacity": 1, "thickness": 2, "size": 20}, "encoding": {"x": {"field": "g", "type": "nominal"}, "y": {"field": "v", "type": "quantitative"}}},
                    {"data": {"name": "gMeans"}, "mark": {"type": "circle", "size": 20, "color": "#e8112d", "opacity": 1}, "encoding": {"x": {"field": "g", "type": "nominal"}, "y": {"field": "v", "type": "quantitative"}}},
                    {"data": {"values": [{"g": "Col", "v": 29.4, "t": "420"}]}, "mark": {"type": "text", "fontSize": 21, "fontStyle": "italic", "align": "left", "dx": -12, "baseline": "alphabetic"}, "encoding": {"x": {"field": "g", "type": "nominal"}, "y": {"field": "v", "type": "quantitative"}, "text": {"field": "t"}}}
                  ]
                }
              ]
            },
            {
              "width": 196, "height": 195,
              "title": {"text": "h", "anchor": "start", "frame": "bounds", "fontSize": 29, "offset": -17, "baseline": "alphabetic"},
              "layer": [
                {"data": {"name": "hDots"}, "mark": {"type": "circle", "size": 10, "color": "black", "opacity": 1},
                 "encoding": {
                   "x": {"field": "g", "type": "nominal", "sort": null, "scale": {"type": "point", "padding": 0.43, "domain": ["Col", "hcr1-2", "ppx2-1", "hcr1-2 ppx2-1", "pp4r2"]},
                         "axis": {"title": null, "labelAngle": -45, "labelFontSize": 14.5, "tickSize": 4, "labelPadding": 2, "labelFontStyle": {"condition": {"test": "datum.value === 'Col'", "value": "normal"}, "value": "italic"}}},
                   "xOffset": {"field": "j", "type": "quantitative", "scale": {"domain": [-1, 1], "range": [-10, 10]}},
                   "y": {"field": "v", "type": "quantitative", "scale": {"domain": [0, 36.75], "nice": false},
                         "axis": {"values": [0, 5, 10, 15, 20, 25, 30, 35], "labelExpr": "datum.value % 10 === 0 ? datum.label : ''", "tickSize": 4, "labelFontSize": 12, "labelPadding": 2, "title": "cM", "titleAngle": 0, "titleFontSize": 18, "titleX": -41, "titleY": 98, "titleAlign": "center", "titleBaseline": "middle"}}
                 }},
                {"data": {"name": "hMeans"}, "mark": {"type": "tick", "color": "black", "opacity": 1, "thickness": 2, "size": 20}, "encoding": {"x": {"field": "g", "type": "nominal"}, "y": {"field": "v", "type": "quantitative"}}},
                {"data": {"name": "hMeans"}, "mark": {"type": "circle", "size": 20, "color": "#e8112d", "opacity": 1}, "encoding": {"x": {"field": "g", "type": "nominal"}, "y": {"field": "v", "type": "quantitative"}}},
                {"data": {"values": [{"g": "Col", "v": 32.8, "t": "420"}]}, "mark": {"type": "text", "fontSize": 21, "fontStyle": "italic", "align": "left", "dx": -12, "baseline": "alphabetic"}, "encoding": {"x": {"field": "g", "type": "nominal"}, "y": {"field": "v", "type": "quantitative"}, "text": {"field": "t"}}}
              ]
            }
          ]
        }
      ]
    }
  ]
}
